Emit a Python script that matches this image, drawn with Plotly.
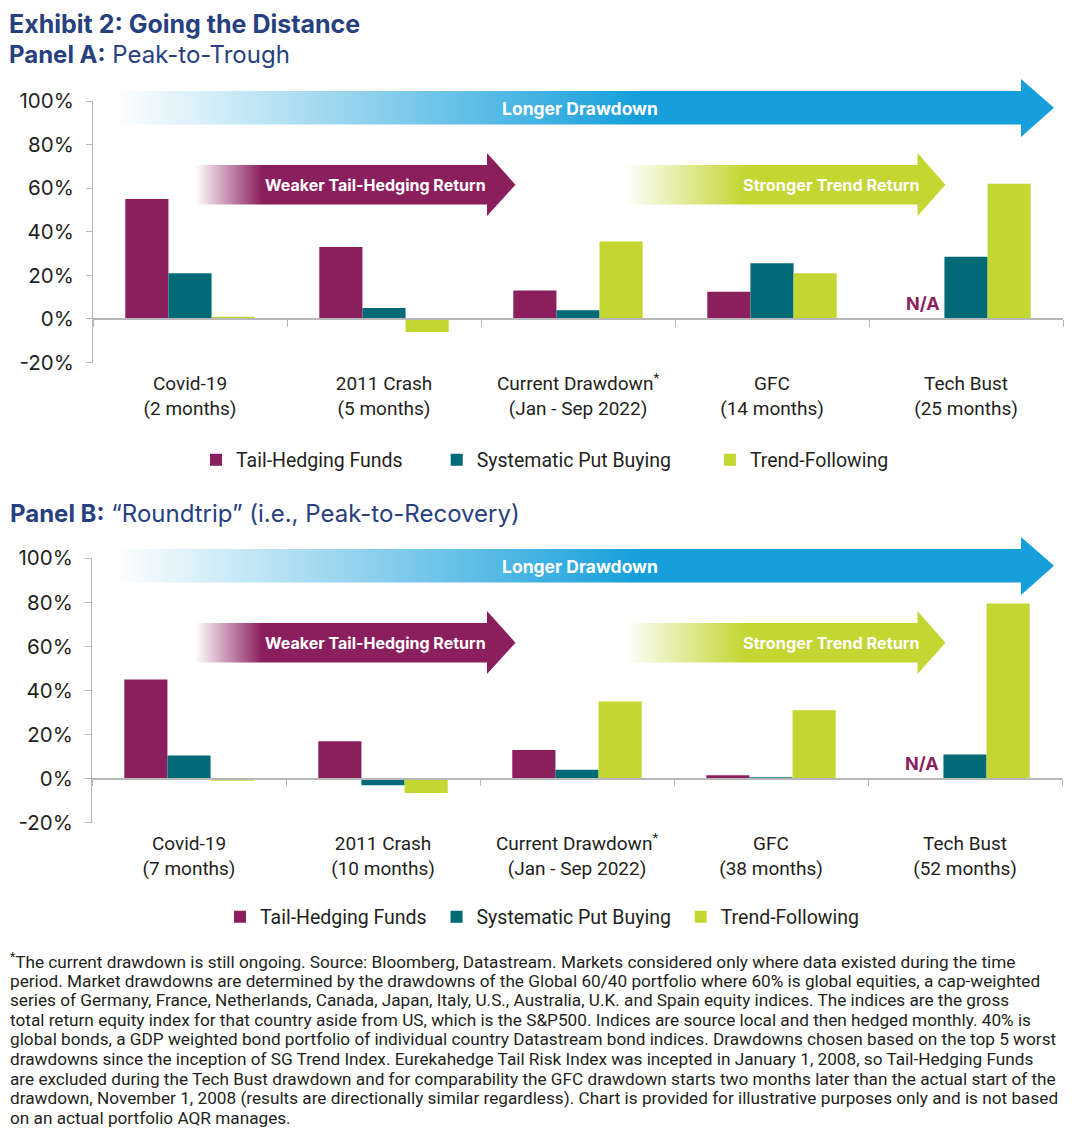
import plotly.graph_objects as go

# ---------------- data ----------------
categories_a = ["Covid-19<br>(2 months)", "2011 Crash<br>(5 months)",
                "Current Drawdown<sup>*</sup><br>(Jan - Sep 2022)",
                "GFC<br>(14 months)", "Tech Bust<br>(25 months)"]
categories_b = ["Covid-19<br>(7 months)", "2011 Crash<br>(10 months)",
                "Current Drawdown<sup>*</sup><br>(Jan - Sep 2022)",
                "GFC<br>(38 months)", "Tech Bust<br>(52 months)"]
series_names = ["Tail-Hedging Funds", "Systematic Put Buying", "Trend-Following"]

tail_a = [55, 33, 13, 12.5, None]
put_a = [21, 5, 4, 25.5, 28.5]
trend_a = [1, -6, 35.5, 21, 62]

tail_b = [45, 17, 13, 1.5, None]
put_b = [10.5, -3, 4, 0.6, 11]
trend_b = [-1, -6.5, 35, 31, 79.5]

y_ticks = [-20, 0, 20, 40, 60, 80, 100]
y_tick_labels = [f"{v}%" for v in y_ticks]

arrow_labels = ["Longer Drawdown", "Weaker Tail-Hedging Return", "Stronger Trend Return"]
na_label = "N/A"

title_text = "<b>Exhibit 2: Going the Distance</b>"
panel_a_title = "<b>Panel A:</b> Peak-to-Trough"
panel_b_title = "<b>Panel B:</b> \u201cRoundtrip\u201d (i.e., Peak-to-Recovery)"

footnote_lines = [
    "<sup>*</sup>The current drawdown is still ongoing. Source: Bloomberg, Datastream. Markets considered only where data existed during the time",
    "period. Market drawdowns are determined by the drawdowns of the Global 60/40 portfolio where 60% is global equities, a cap-weighted",
    "series of Germany, France, Netherlands, Canada, Japan, Italy, U.S., Australia, U.K. and Spain equity indices. The indices are the gross",
    "total return equity index for that country aside from US, which is the S&amp;P500. Indices are source local and then hedged monthly. 40% is",
    "global bonds, a GDP weighted bond portfolio of individual country Datastream bond indices. Drawdowns chosen based on the top 5 worst",
    "drawdowns since the inception of SG Trend Index. Eurekahedge Tail Risk Index was incepted in January 1, 2008, so Tail-Hedging Funds",
    "are excluded during the Tech Bust drawdown and for comparability the GFC drawdown starts two months later than the actual start of the",
    "drawdown, November 1, 2008 (results are directionally similar regardless). Chart is provided for illustrative purposes only and is not based",
    "on an actual portfolio AQR manages.",
]

# ---------------- style ----------------
OFF = 8                      # page body margin
FW, FH = 1080 - OFF, 1133 - OFF
MAG = "#8b1f5e"
TEAL = "#006b77"
LIME = "#c3d631"
NAVY = "#27407f"
TXT = "#231f20"
GRID = "#b8b8b8"
colors = [MAG, TEAL, LIME]
HEAD = "Inter"
BODY = "Roboto"


def px(x):
    return (x - OFF) / FW


def py(y):
    return 1 - (y - OFF) / FH


fig = go.Figure()

panels = [
    dict(cats=categories_a, vals=[tail_a, put_a, trend_a], xd=(93, 1063), top=101, bot=362.5,
         ax="x", ay="y", leg="legend", off=0, pad=[6, 7, 0], lx=196, ly=460),
    dict(cats=categories_b, vals=[tail_b, put_b, trend_b], xd=(92, 1062), top=558.3, bot=822.7,
         ax="x2", ay="y2", leg="legend2", off=458, pad=[1, 1, 0], lx=220, ly=917),
]

for p in panels:
    for name, vals, col, pad in zip(series_names, p["vals"], colors, p["pad"]):
        fig.add_trace(go.Bar(
            x=p["cats"], y=vals, name=name + "\u00a0" * pad, marker=dict(color=col, line=dict(width=0)),
            xaxis=p["ax"], yaxis=p["ay"], legend=p["leg"], hoverinfo="x+y",
        ))


def arrow(x0, xb, xt, yt, yb, hy0, hy1, color_rgb, g0, g1):
    yc = (yt + yb) / 2
    xs = [x0, xb, xb, xt, xb, xb, x0, x0]
    ys = [yt, yt, hy0, yc, hy1, yb, yb, yt]
    r, g, b = color_rgb
    fig.add_trace(go.Scatter(
        x=xs, y=ys, xaxis="x3", yaxis="y3", mode="lines", fill="toself",
        line=dict(width=0, color=f"rgba({r},{g},{b},0)"),
        fillgradient=dict(type="horizontal", start=g0, stop=g1,
                          colorscale=[[0, f"rgba({r},{g},{b},0)"], [1, f"rgba({r},{g},{b},1)"]]),
        showlegend=False, hoverinfo="skip",
    ))


arrow_text = []
for p in panels:
    o = p["off"]
    arrow(113, 1021, 1054, 91 + o, 124.5 + o, 79 + o, 137 + o, (21, 159, 219), 113, 640)
    arrow(195, 487, 515.5, 165 + o, 204.5 + o, 153 + o, 216 + o, (139, 31, 94), 195, 262)
    arrow(624, 917.5, 945.5, 165 + o, 204.5 + o, 153 + o, 216 + o, (195, 214, 49), 624, 745)
    arrow_text += [(580, 108 + o, arrow_labels[0], 17.5), (375, 184.5 + o, arrow_labels[1], 16),
                   (831, 184.5 + o, arrow_labels[2], 16.3)]

annotations = []
for (x, y, t, s) in arrow_text:
    annotations.append(dict(x=x, y=y, xref="x3", yref="y3", text=f"<b>{t}</b>", showarrow=False,
                            font=dict(family=HEAD, size=s, color="white"), xanchor="center", yanchor="middle"))

for p in panels:
    annotations.append(dict(x=p["cats"][4], y=0, xref=p["ax"], yref=p["ay"], xshift=-43, yshift=3,
                            text=f"<b>{na_label}</b>", showarrow=False, yanchor="bottom",
                            font=dict(family=HEAD, size=18, color=MAG)))

annotations += [
    dict(x=0, y=1, xref="paper", yref="paper", text=title_text, showarrow=False, borderpad=0,
         xanchor="left", yanchor="top", font=dict(family=HEAD, size=25, color=NAVY)),
    dict(x=0, y=py(39), xref="paper", yref="paper", text=panel_a_title, showarrow=False, borderpad=0,
         xanchor="left", yanchor="top", font=dict(family=HEAD, size=24, color=NAVY)),
    dict(x=0, y=py(513), xref="paper", yref="paper", text=panel_b_title, showarrow=False,
         xanchor="left", yanchor="middle", font=dict(family=HEAD, size=24, color=NAVY)),
]
for i, line in enumerate(footnote_lines):
    annotations.append(dict(x=0, y=py(961 + i * 19.6), xref="paper", yref="paper", text=line,
                            showarrow=False, xanchor="left", yanchor="middle",
                            font=dict(family=BODY, size=17.2, color=TXT)))

layout = dict(
    width=FW, height=FH, autosize=False,
    margin=dict(l=0, r=0, t=0, b=0, pad=0, autoexpand=False),
    paper_bgcolor="white", plot_bgcolor="rgba(0,0,0,0)",
    barmode="group", bargap=0.333, bargroupgap=0,
    annotations=annotations, hovermode="closest",
    xaxis3=dict(domain=[0, 1], range=[OFF, 1080], visible=False, fixedrange=True, anchor="y3"),
    yaxis3=dict(domain=[0, 1], range=[1133, OFF], visible=False, fixedrange=True, anchor="x3"),
)

for i, p in enumerate(panels):
    suffix = "" if i == 0 else str(i + 1)
    d0, d1 = py(p["bot"]), py(p["top"])
    zero_pos = d0 + (0 - y_ticks[0]) / (y_ticks[-1] - y_ticks[0]) * (d1 - d0)
    layout["xaxis" + suffix] = dict(
        domain=[px(p["xd"][0]), px(p["xd"][1])], anchor="free", position=zero_pos,
        type="category", showline=True, linecolor=GRID, linewidth=1.5,
        ticks="outside", ticklen=7, tickwidth=1.2, tickcolor=GRID, tickson="boundaries",
        tickfont=dict(family=BODY, size=19, color=TXT), ticklabelstandoff=48,
        showgrid=False, zeroline=False, fixedrange=True,
    )
    layout["yaxis" + suffix] = dict(
        domain=[d0, d1], anchor="x" + suffix, range=[y_ticks[0], y_ticks[-1]],
        tickvals=y_ticks, ticktext=y_tick_labels, showline=True, linecolor=GRID, linewidth=1.2,
        ticks="outside", ticklen=6, tickcolor=GRID, tickwidth=1.2,
        tickfont=dict(family=HEAD, size=20.5, color=TXT), ticklabelstandoff=8,
        showgrid=False, zeroline=False, fixedrange=True,
    )
    layout["legend" + suffix] = dict(
        orientation="h", x=px(p["lx"]), y=py(p["ly"]), xanchor="left", yanchor="middle",
        font=dict(family=BODY, size=19.5, color=TXT), bgcolor="rgba(0,0,0,0)",
        itemclick=False, itemdoubleclick=False,
    )

fig.update_layout(**layout)
fig.write_html("out.html")
